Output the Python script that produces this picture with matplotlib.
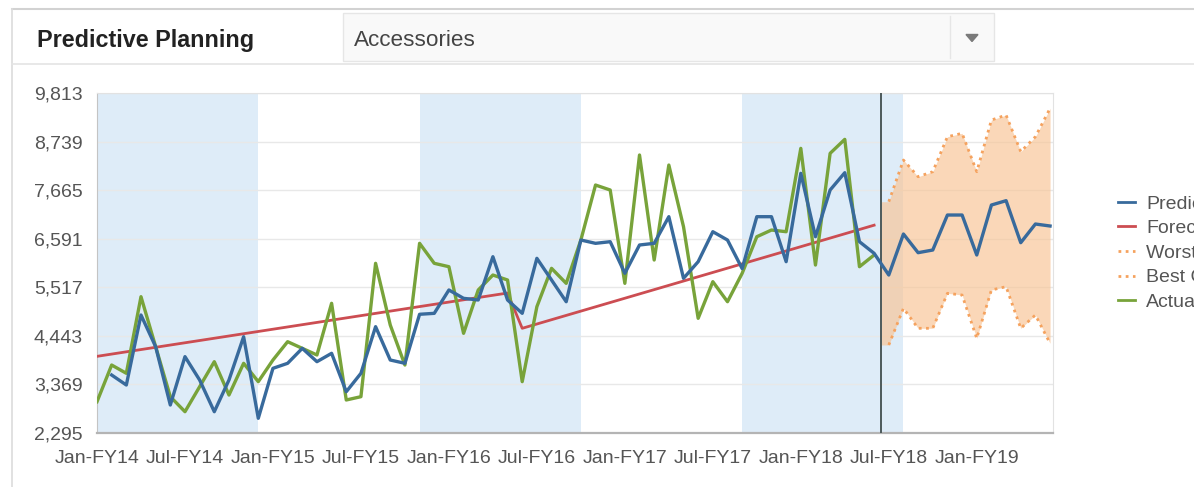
import numpy as np
import matplotlib.pyplot as plt
from matplotlib.patches import Rectangle, Polygon
from matplotlib.lines import Line2D

# chart data (one value per month, Jan-FY14 = 0)
tick_labels = ["Jan-FY14", "Jul-FY14", "Jan-FY15", "Jul-FY15", "Jan-FY16", "Jul-FY16",
               "Jan-FY17", "Jul-FY17", "Jan-FY18", "Jul-FY18", "Jan-FY19"]
y_ticks = [2295, 3369, 4443, 5517, 6591, 7665, 8739, 9813]

predicted = [np.nan, 3577, 3356, 4904, 4203, 2914, 3983, 3467, 2766, 3467, 4424, 2620,
             3725, 3836, 4167, 3872, 4057, 3208, 3615, 4646, 3909, 3836, 4920, 4941,
             5457, 5273, 5236, 6193, 5236, 4941, 6157, 5678, 5198, 6562, 6489, 6525,
             5826, 6452, 6489, 7078, 5715, 6083, 6746, 6562, 5930, 7078, 7078, 6083,
             8037, 6635, 7668, 8051, 6525, 6268, 5788, 6695, 6282, 6341, 7115, 7115,
             6231, 7336, 7432, 6503, 6916, 6872]

actual = [2987, 3798, 3615, 5309, 4204, 3098, 2766, 3319, 3872, 3135, 3836, 3430,
          3909, 4314, 4167, 4020, 5163, 3025, 3098, 6047, 4683, 3798, 6489, 6047,
          5972, 4499, 5457, 5788, 5678, 3430, 5088, 5936, 5604, 6562, 7778, 7668,
          5604, 8442, 6120, 8220, 6857, 4831, 5641, 5198, 5826, 6635, 6783, 6746,
          8589, 6009, 8479, 8788, 5972, 6231]

# forecast trend is two straight segments: knots (month, value)
forecast_month = [0, 28, 29, 53]
forecast_value = [3990, 5390, 4610, 6890]

# scenario bounds, months 54..65
worst_case = [4241, 5052, 4610, 4610, 5384, 5346, 4389, 5457, 5530, 4610, 4904, 4278]
best_case = [7409, 8331, 7962, 8073, 8846, 8921, 8073, 9215, 9326, 8515, 8846, 9474]

band_start = [0, 22, 44]   # shaded fiscal bands
band_width = 11
divider = 53.5             # history / forecast split

W, H = 1194, 487
BLUE = "#386a9c"
RED = "#cc4d52"
GREEN = "#78a33a"
ORANGE = "#f5a25e"
TXT = "#555555"
DOTS = (0, (1, 1.6))

plt.rcParams['font.family'] = ['Liberation Sans', 'DejaVu Sans']


def fx(x):
    return x / W


def fy(y):
    return 1 - y / H


fig = plt.figure(figsize=(W / 100, H / 100), dpi=100)
fig.patch.set_facecolor("white")

# header strip
fig.add_artist(Line2D([fx(12), 1], [fy(8.5), fy(8.5)], transform=fig.transFigure,
                      color="#d2d2d2", lw=1.5))
fig.add_artist(Line2D([fx(12), fx(12)], [fy(8.5), 0], transform=fig.transFigure,
                      color="#dcdcdc", lw=1.2))
fig.add_artist(Line2D([fx(12), 1], [fy(64), fy(64)], transform=fig.transFigure,
                      color="#e4e4e4", lw=1.2))
fig.add_artist(Rectangle((fx(343), fy(61)), fx(994 - 343), (61 - 13) / H,
                         transform=fig.transFigure, facecolor="#f9f9f9",
                         edgecolor="#e6e6e6", lw=1))
fig.add_artist(Line2D([fx(950), fx(950)], [fy(16), fy(58)], transform=fig.transFigure,
                      color="#e6e6e6", lw=1))
fig.add_artist(Polygon([(fx(966), fy(34.5)), (fx(978), fy(34.5)), (fx(972), fy(41.5))],
                       closed=True, transform=fig.transFigure, color="#7a7a7a"))
fig.text(fx(37), fy(46.5), "Predictive Planning", fontsize=16.8, fontweight="bold",
         color="#222222", va="baseline", ha="left")
fig.text(fx(354), fy(46.5), "Accessories", fontsize=16.2, color="#444444",
         va="baseline", ha="left")

# plot area
ax = fig.add_axes([fx(97), fy(433), fx(1053 - 97), (433 - 93) / H])
months = np.arange(len(predicted))

for s in band_start:
    ax.axvspan(s, s + band_width, color="#deecf8", lw=0, zorder=0)

ax.set_yticks(y_ticks)
ax.yaxis.grid(True, color="#e8e8e8", lw=1)
ax.set_axisbelow(True)

fut = months[len(actual):]
lo = np.array(worst_case)
hi = np.array(best_case)
fill_x = np.concatenate([[divider], fut])
ax.fill_between(fill_x, np.concatenate([[lo[0]], lo]), np.concatenate([[hi[0]], hi]),
                color="#f8c597", alpha=0.68, lw=0, zorder=1)
ax.plot(fut, worst_case, color=ORANGE, lw=2, ls=DOTS, zorder=2)
ax.plot(fut, best_case, color=ORANGE, lw=2, ls=DOTS, zorder=2)

ax.axvline(divider, color="#4d5a5a", lw=1.4, zorder=3)

ax.plot(forecast_month, forecast_value, color=RED, lw=2, zorder=4)
ax.plot(months[:len(actual)], actual, color=GREEN, lw=2.4, zorder=5)
ax.plot(months, predicted, color=BLUE, lw=2.4, zorder=6)

ax.set_xlim(0, 65.2)
ax.set_ylim(y_ticks[0], y_ticks[-1])
ax.set_xticks(np.arange(0, 6 * len(tick_labels), 6))
ax.set_xticklabels(tick_labels)
ax.set_yticklabels([f"{v:,}" for v in y_ticks])
ax.tick_params(axis="both", length=0, labelsize=14, labelcolor=TXT)
ax.tick_params(axis="x", pad=12)
ax.tick_params(axis="y", pad=10)

ax.spines["left"].set_color("#c4c4c4")
ax.spines["bottom"].set_color("#b4b4b4")
ax.spines["bottom"].set_linewidth(1.6)
ax.spines["top"].set_color("#e2e2e2")
ax.spines["right"].set_color("#e2e2e2")

handles = [Line2D([], [], color=BLUE, lw=2),
           Line2D([], [], color=RED, lw=2),
           Line2D([], [], color=ORANGE, lw=2, ls=DOTS),
           Line2D([], [], color=ORANGE, lw=2, ls=DOTS),
           Line2D([], [], color=GREEN, lw=2)]
labels = ["Predicted", "Forecast", "Worst Case", "Best Case", "Actual"]
leg = fig.legend(handles, labels, loc="upper left", bbox_to_anchor=(fx(1118), fy(195)),
                 frameon=False, fontsize=14, handlelength=0.85, handletextpad=0.6,
                 labelspacing=0.36, borderaxespad=0, borderpad=0)
for t in leg.get_texts():
    t.set_color(TXT)

fig.savefig("out.png", dpi=100)
